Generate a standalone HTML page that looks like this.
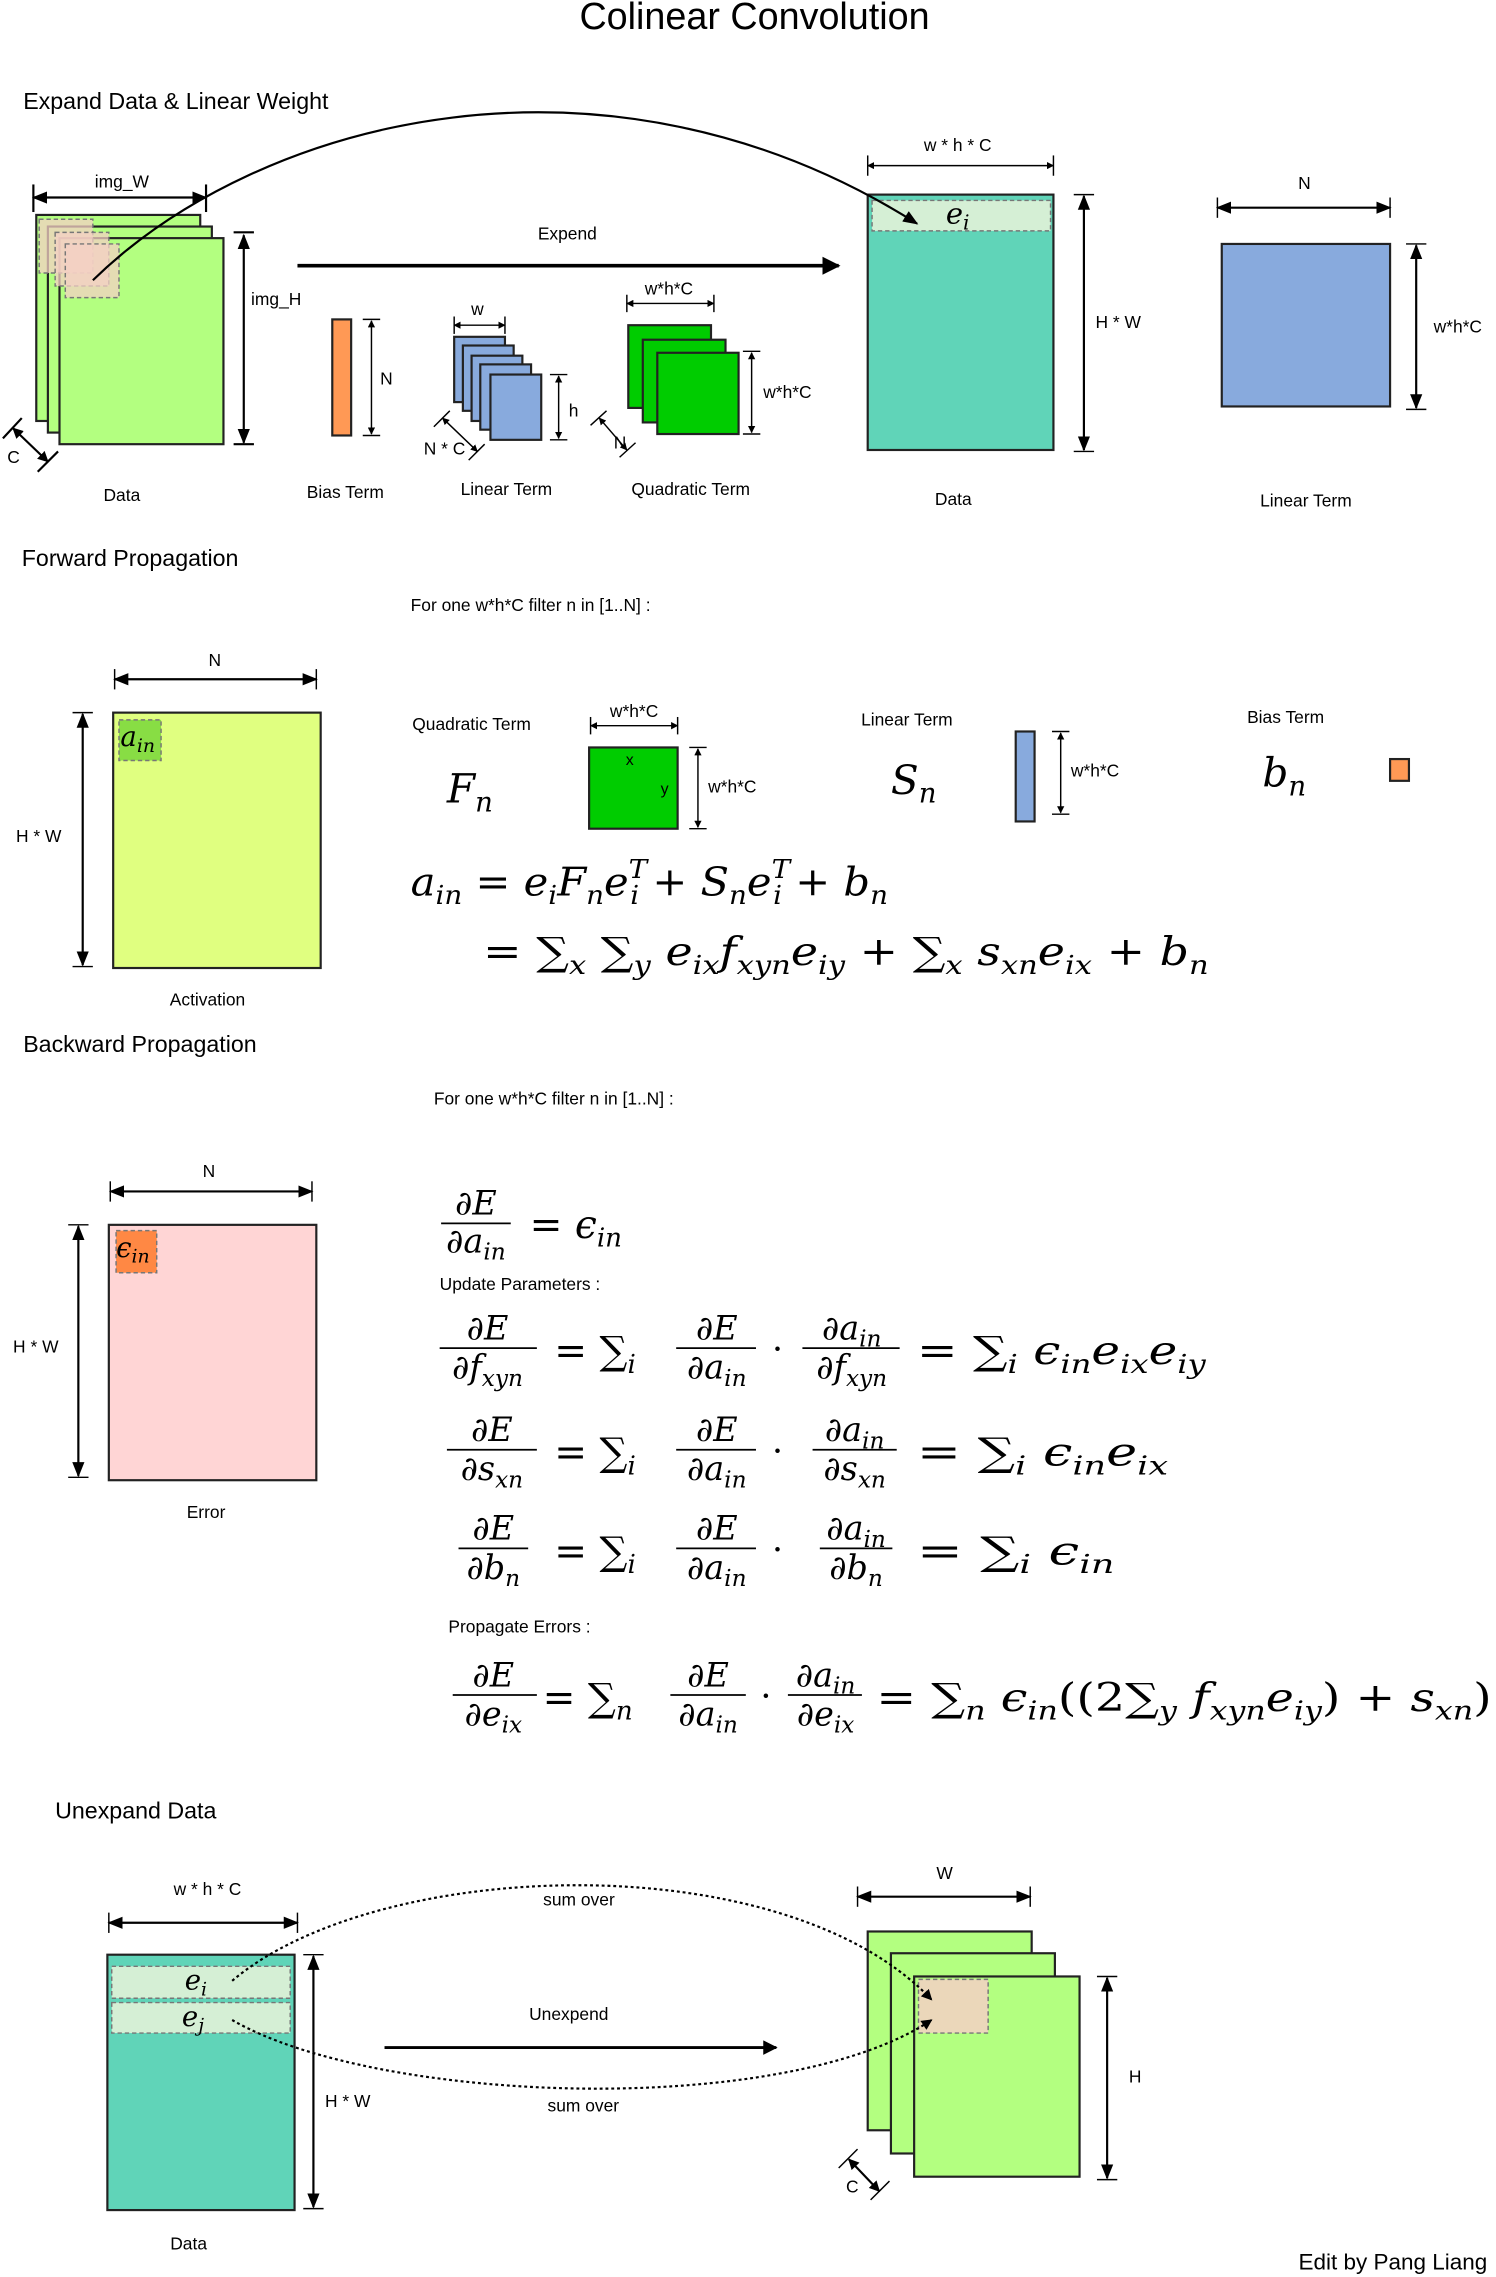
<!DOCTYPE html>
<html><head><meta charset="utf-8"><style>
html,body{margin:0;padding:0;background:#fff}
svg{display:block}
.t{font-family:"Liberation Sans",sans-serif;fill:#000}
.m{font-family:"DejaVu Serif","Liberation Serif",serif;font-style:italic;fill:#000}
.r{font-family:"DejaVu Serif","Liberation Serif",serif;font-style:normal;fill:#000}
</style></head><body>
<svg width="1496" height="2277" viewBox="0 0 1031 1569" xmlns="http://www.w3.org/2000/svg">
<defs>
<marker id="a" viewBox="0 0 10 10" refX="9" refY="5" markerWidth="7" markerHeight="7" orient="auto-start-reverse"><path d="M0,1L10,5L0,9z" fill="#000"/></marker>
<marker id="b" viewBox="0 0 10 10" refX="9" refY="5" markerWidth="5" markerHeight="5" orient="auto-start-reverse"><path d="M0,0L10,5L0,10z" fill="#000"/></marker>
</defs>
<g stroke="#000" stroke-width="1.5">
<text class="t" x="520" y="20" font-size="26" text-anchor="middle" stroke="none">Colinear Convolution</text>

<text class="t" x="16" y="75" font-size="16" stroke="none">Expand Data &amp; Linear Weight</text>
<g stroke="#222">
<rect x="25" y="148" width="113" height="142" fill="#b3ff80"/>
<rect x="33" y="156" width="113" height="142" fill="#b3ff80"/>
<rect x="41" y="164" width="113" height="142" fill="#b3ff80"/>
<rect x="27" y="151" width="37" height="37" fill="#f4d0c4" fill-opacity="0.75" stroke="#777" stroke-dasharray="3,2" stroke-width="1"/>
<rect x="38" y="160" width="37" height="37" fill="#f4d0c4" fill-opacity="0.75" stroke="#777" stroke-dasharray="3,2" stroke-width="1"/>
<rect x="45" y="168" width="37" height="37" fill="#f4d0c4" fill-opacity="0.75" stroke="#777" stroke-dasharray="3,2" stroke-width="1"/>
</g>
<line x1="23" y1="136" x2="142" y2="136" marker-start="url(#a)" marker-end="url(#a)"/>
<line x1="23" y1="127" x2="23" y2="146"/><line x1="142" y1="127" x2="142" y2="146"/>
<text class="t" x="84" y="129" font-size="12" text-anchor="middle" stroke="none">img_W</text>
<line x1="168" y1="162" x2="168" y2="305" marker-start="url(#a)" marker-end="url(#a)"/>
<line x1="161" y1="160" x2="175" y2="160"/><line x1="161" y1="306" x2="175" y2="306"/>
<text class="t" x="173" y="210" font-size="12" stroke="none">img_H</text>
<line x1="9" y1="295" x2="33" y2="318" marker-start="url(#b)" marker-end="url(#b)"/>
<line x1="2" y1="302" x2="15" y2="288"/><line x1="26" y1="325" x2="40" y2="311"/>
<text class="t" x="5" y="319" font-size="12" stroke="none">C</text>
<text class="t" x="84" y="345" font-size="12" text-anchor="middle" stroke="none">Data</text>

<line x1="205" y1="183" x2="578" y2="183" stroke-width="2.5" marker-end="url(#b)"/>
<text class="t" x="391" y="165" font-size="12" text-anchor="middle" stroke="none">Expend</text>

<rect x="229" y="220" width="13" height="80" fill="#ff9955" stroke="#222"/>
<line x1="256" y1="221" x2="256" y2="299" stroke-width="1" marker-start="url(#b)" marker-end="url(#b)"/>
<line x1="250" y1="220" x2="262" y2="220" stroke-width="1"/><line x1="250" y1="300" x2="262" y2="300" stroke-width="1"/>
<text class="t" x="262" y="265" font-size="12" stroke="none">N</text>
<text class="t" x="238" y="343" font-size="12" text-anchor="middle" stroke="none">Bias Term</text>

<g stroke="#222" fill="#88aadd">
<rect x="313" y="232" width="35" height="45"/><rect x="319" y="238" width="35" height="45"/><rect x="325" y="245" width="35" height="45"/><rect x="331" y="251" width="35" height="45"/><rect x="338" y="258" width="35" height="45"/>
</g>
<line x1="313" y1="224" x2="348" y2="224" stroke-width="1" marker-start="url(#b)" marker-end="url(#b)"/>
<line x1="313" y1="218" x2="313" y2="230" stroke-width="1"/><line x1="348" y1="218" x2="348" y2="230" stroke-width="1"/>
<text class="t" x="329" y="217" font-size="12" text-anchor="middle" stroke="none">w</text>
<line x1="385" y1="259" x2="385" y2="302" stroke-width="1" marker-start="url(#b)" marker-end="url(#b)"/>
<line x1="379" y1="258" x2="391" y2="258" stroke-width="1"/><line x1="379" y1="303" x2="391" y2="303" stroke-width="1"/>
<text class="t" x="392" y="287" font-size="12" stroke="none">h</text>
<line x1="305" y1="288" x2="329" y2="311" stroke-width="1" marker-start="url(#b)" marker-end="url(#b)"/>
<line x1="299" y1="294" x2="310" y2="283" stroke-width="1"/><line x1="323" y1="317" x2="334" y2="306" stroke-width="1"/>
<text class="t" x="292" y="313" font-size="12" stroke="none">N * C</text>
<text class="t" x="349" y="341" font-size="12" text-anchor="middle" stroke="none">Linear Term</text>

<g stroke="#222" fill="#00cc00">
<rect x="433" y="224" width="57" height="57"/><rect x="443" y="234" width="57" height="57"/><rect x="453" y="243" width="56" height="56"/>
</g>
<line x1="432" y1="209" x2="492" y2="209" stroke-width="1" marker-start="url(#b)" marker-end="url(#b)"/>
<line x1="432" y1="203" x2="432" y2="215" stroke-width="1"/><line x1="492" y1="203" x2="492" y2="215" stroke-width="1"/>
<text class="t" x="461" y="203" font-size="12" text-anchor="middle" stroke="none">w*h*C</text>
<line x1="518" y1="243" x2="518" y2="298" stroke-width="1" marker-start="url(#b)" marker-end="url(#b)"/>
<line x1="512" y1="242" x2="524" y2="242" stroke-width="1"/><line x1="512" y1="299" x2="524" y2="299" stroke-width="1"/>
<text class="t" x="526" y="274" font-size="12" stroke="none">w*h*C</text>
<line x1="413" y1="288" x2="432" y2="310" stroke-width="1" marker-start="url(#b)" marker-end="url(#b)"/>
<line x1="407" y1="293" x2="418" y2="283" stroke-width="1"/><line x1="427" y1="315" x2="438" y2="305" stroke-width="1"/>
<text class="t" x="423" y="309" font-size="12" stroke="none">N</text>
<text class="t" x="476" y="341" font-size="12" text-anchor="middle" stroke="none">Quadratic Term</text>

<rect x="598" y="134" width="128" height="176" fill="#60d4b8" stroke="#222"/>
<rect x="601" y="138" width="123" height="21" fill="#d5efd5" stroke="#777" stroke-width="1" stroke-dasharray="3,2"/>
<text class="m" x="660" y="154" font-size="20" text-anchor="middle" stroke="none">e<tspan font-size="14" dy="4">i</tspan></text>
<line x1="598" y1="114" x2="726" y2="114" stroke-width="1" marker-start="url(#b)" marker-end="url(#b)"/>
<line x1="598" y1="107" x2="598" y2="121" stroke-width="1"/><line x1="726" y1="107" x2="726" y2="121" stroke-width="1"/>
<text class="t" x="660" y="104" font-size="12" text-anchor="middle" stroke="none">w * h * C</text>
<line x1="747" y1="135" x2="747" y2="310" stroke-width="1.5" marker-start="url(#a)" marker-end="url(#a)"/>
<line x1="740" y1="134" x2="754" y2="134" stroke-width="1"/><line x1="740" y1="311" x2="754" y2="311" stroke-width="1"/>
<text class="t" x="755" y="226" font-size="12" stroke="none">H * W</text>
<text class="t" x="657" y="348" font-size="12" text-anchor="middle" stroke="none">Data</text>
<path d="M64,193 C180,80 420,20 632,154" fill="none" marker-end="url(#a)"/>

<rect x="842" y="168" width="116" height="112" fill="#88aadd" stroke="#222"/>
<line x1="839" y1="143" x2="958" y2="143" stroke-width="1.5" marker-start="url(#a)" marker-end="url(#a)"/>
<line x1="839" y1="136" x2="839" y2="150" stroke-width="1"/><line x1="958" y1="136" x2="958" y2="150" stroke-width="1"/>
<text class="t" x="899" y="130" font-size="12" text-anchor="middle" stroke="none">N</text>
<line x1="976" y1="169" x2="976" y2="281" stroke-width="1.5" marker-start="url(#a)" marker-end="url(#a)"/>
<line x1="969" y1="168" x2="983" y2="168" stroke-width="1"/><line x1="969" y1="282" x2="983" y2="282" stroke-width="1"/>
<text class="t" x="988" y="229" font-size="12" stroke="none">w*h*C</text>
<text class="t" x="900" y="349" font-size="12" text-anchor="middle" stroke="none">Linear Term</text>

<text class="t" x="15" y="390" font-size="16" stroke="none">Forward Propagation</text>
<text class="t" x="283" y="421" font-size="12" stroke="none">For one w*h*C filter n in [1..N] :</text>
<rect x="78" y="491" width="143" height="176" fill="#e0ff80" stroke="#222"/>
<rect x="82" y="496" width="29" height="28" fill="#88dd44" stroke="#777" stroke-width="1" stroke-dasharray="3,2"/>
<text class="m" x="83" y="514" font-size="19" stroke="none">a<tspan font-size="13" dy="4">in</tspan></text>
<line x1="79" y1="468" x2="218" y2="468" stroke-width="1.5" marker-start="url(#a)" marker-end="url(#a)"/>
<line x1="79" y1="461" x2="79" y2="475" stroke-width="1"/><line x1="218" y1="461" x2="218" y2="475" stroke-width="1"/>
<text class="t" x="148" y="459" font-size="12" text-anchor="middle" stroke="none">N</text>
<line x1="57" y1="492" x2="57" y2="665" stroke-width="1.5" marker-start="url(#a)" marker-end="url(#a)"/>
<line x1="50" y1="491" x2="64" y2="491" stroke-width="1"/><line x1="50" y1="666" x2="64" y2="666" stroke-width="1"/>
<text class="t" x="11" y="580" font-size="12" stroke="none">H * W</text>
<text class="t" x="143" y="693" font-size="12" text-anchor="middle" stroke="none">Activation</text>

<text class="t" x="325" y="503" font-size="12" text-anchor="middle" stroke="none">Quadratic Term</text>
<text class="m" x="308" y="553" font-size="28" stroke="none">F<tspan font-size="19" dy="6">n</tspan></text>
<rect x="406" y="515" width="61" height="56" fill="#00cc00" stroke="#222"/>
<text class="t" x="434" y="527" font-size="11" text-anchor="middle" stroke="none">x</text>
<text class="t" x="458" y="547" font-size="11" text-anchor="middle" stroke="none">y</text>
<line x1="407" y1="500" x2="467" y2="500" stroke-width="1" marker-start="url(#b)" marker-end="url(#b)"/>
<line x1="407" y1="494" x2="407" y2="506" stroke-width="1"/><line x1="467" y1="494" x2="467" y2="506" stroke-width="1"/>
<text class="t" x="437" y="494" font-size="12" text-anchor="middle" stroke="none">w*h*C</text>
<line x1="481" y1="516" x2="481" y2="570" stroke-width="1" marker-start="url(#b)" marker-end="url(#b)"/>
<line x1="475" y1="515" x2="487" y2="515" stroke-width="1"/><line x1="475" y1="571" x2="487" y2="571" stroke-width="1"/>
<text class="t" x="488" y="546" font-size="12" stroke="none">w*h*C</text>

<text class="t" x="625" y="500" font-size="12" text-anchor="middle" stroke="none">Linear Term</text>
<text class="m" x="614" y="547" font-size="28" stroke="none">S<tspan font-size="19" dy="6">n</tspan></text>
<rect x="700" y="504" width="13" height="62" fill="#88aadd" stroke="#222"/>
<line x1="731" y1="505" x2="731" y2="560" stroke-width="1" marker-start="url(#b)" marker-end="url(#b)"/>
<line x1="725" y1="504" x2="737" y2="504" stroke-width="1"/><line x1="725" y1="561" x2="737" y2="561" stroke-width="1"/>
<text class="t" x="738" y="535" font-size="12" stroke="none">w*h*C</text>

<text class="t" x="886" y="498" font-size="12" text-anchor="middle" stroke="none">Bias Term</text>
<text class="m" x="870" y="542" font-size="28" stroke="none">b<tspan font-size="19" dy="6">n</tspan></text>
<rect x="958" y="523" width="13" height="15" fill="#ff9955" stroke="#222"/>

<g stroke="none">
<text class="m" x="283" y="617" font-size="27" textLength="329" lengthAdjust="spacingAndGlyphs">a<tspan font-size="18" dy="6">in</tspan><tspan class="r" dy="-6"> = </tspan>e<tspan font-size="18" dy="6">i</tspan><tspan dy="-6">F</tspan><tspan font-size="18" dy="6">n</tspan><tspan dy="-6">e</tspan><tspan font-size="18" dy="-12">T</tspan><tspan font-size="18" dx="-11" dy="18">i</tspan><tspan class="r" dy="-6"> + </tspan>S<tspan font-size="18" dy="6">n</tspan><tspan dy="-6">e</tspan><tspan font-size="18" dy="-12">T</tspan><tspan font-size="18" dx="-11" dy="18">i</tspan><tspan class="r" dy="-6"> + </tspan>b<tspan font-size="18" dy="6">n</tspan></text>
<text class="m" x="333" y="665" font-size="27" textLength="500" lengthAdjust="spacingAndGlyphs"><tspan class="r">= ∑</tspan><tspan font-size="18" dy="6">x</tspan><tspan class="r" dy="-6"> ∑</tspan><tspan font-size="18" dy="6">y</tspan><tspan dy="-6"> e</tspan><tspan font-size="18" dy="6">ix</tspan><tspan dy="-6">f</tspan><tspan font-size="18" dy="6">xyn</tspan><tspan dy="-6">e</tspan><tspan font-size="18" dy="6">iy</tspan><tspan class="r" dy="-6"> + ∑</tspan><tspan font-size="18" dy="6">x</tspan><tspan dy="-6"> s</tspan><tspan font-size="18" dy="6">xn</tspan><tspan dy="-6">e</tspan><tspan font-size="18" dy="6">ix</tspan><tspan class="r" dy="-6"> + </tspan>b<tspan font-size="18" dy="6">n</tspan></text>
</g>

<text class="t" x="16" y="725" font-size="16" stroke="none">Backward Propagation</text>
<text class="t" x="299" y="761" font-size="12" stroke="none">For one w*h*C filter n in [1..N] :</text>
<rect x="75" y="844" width="143" height="176" fill="#ffd5d5" stroke="#222"/>
<rect x="80" y="848" width="28" height="29" fill="#ff8844" stroke="#777" stroke-width="1" stroke-dasharray="3,2"/>
<text class="m" x="80" y="866" font-size="19" stroke="none">ϵ<tspan font-size="13" dy="4">in</tspan></text>
<line x1="76" y1="821" x2="215" y2="821" stroke-width="1.5" marker-start="url(#a)" marker-end="url(#a)"/>
<line x1="76" y1="814" x2="76" y2="828" stroke-width="1"/><line x1="215" y1="814" x2="215" y2="828" stroke-width="1"/>
<text class="t" x="144" y="811" font-size="12" text-anchor="middle" stroke="none">N</text>
<line x1="54" y1="845" x2="54" y2="1017" stroke-width="1.5" marker-start="url(#a)" marker-end="url(#a)"/>
<line x1="47" y1="844" x2="61" y2="844" stroke-width="1"/><line x1="47" y1="1018" x2="61" y2="1018" stroke-width="1"/>
<text class="t" x="9" y="932" font-size="12" stroke="none">H * W</text>
<text class="t" x="142" y="1046" font-size="12" text-anchor="middle" stroke="none">Error</text>

<g stroke="none">
<text class="m" x="328" y="837" font-size="23" text-anchor="middle">∂E</text>
<line x1="304" y1="843" x2="352" y2="843" stroke="#000" stroke-width="1.2"/>
<text class="m" x="328" y="863" font-size="23" text-anchor="middle">∂a<tspan font-size="16" dy="5">in</tspan></text>
<text class="m" x="365" y="853" font-size="27"><tspan class="r">= </tspan>ϵ<tspan font-size="18" dy="6">in</tspan></text>
<text class="t" x="303" y="889" font-size="12">Update Parameters :</text>

<text class="m" x="336" y="923" font-size="23" text-anchor="middle">∂E</text>
<line x1="303" y1="929" x2="370" y2="929" stroke="#000" stroke-width="1.2"/>
<text class="m" x="336" y="950" font-size="23" text-anchor="middle">∂f<tspan font-size="16" dy="5">xyn</tspan></text>
<text class="r" x="382" y="940" font-size="27">= ∑<tspan class="m" font-size="18" dy="6">i</tspan></text>
<text class="m" x="494" y="923" font-size="23" text-anchor="middle">∂E</text>
<line x1="466" y1="929" x2="521" y2="929" stroke="#000" stroke-width="1.2"/>
<text class="m" x="494" y="950" font-size="23" text-anchor="middle">∂a<tspan font-size="16" dy="5">in</tspan></text>
<text class="r" x="532" y="938" font-size="24">·</text>
<text class="m" x="587" y="923" font-size="23" text-anchor="middle">∂a<tspan font-size="16" dy="5">in</tspan></text>
<line x1="553" y1="929" x2="620" y2="929" stroke="#000" stroke-width="1.2"/>
<text class="m" x="587" y="950" font-size="23" text-anchor="middle">∂f<tspan font-size="16" dy="5">xyn</tspan></text>
<text class="m" x="632" y="940" font-size="27" textLength="199" lengthAdjust="spacingAndGlyphs"><tspan class="r">= ∑</tspan><tspan font-size="18" dy="6">i</tspan><tspan dy="-6"> ϵ</tspan><tspan font-size="18" dy="6">in</tspan><tspan dy="-6">e</tspan><tspan font-size="18" dy="6">ix</tspan><tspan dy="-6">e</tspan><tspan font-size="18" dy="6">iy</tspan></text>

<text class="m" x="339" y="993" font-size="23" text-anchor="middle">∂E</text>
<line x1="308" y1="999" x2="370" y2="999" stroke="#000" stroke-width="1.2"/>
<text class="m" x="339" y="1020" font-size="23" text-anchor="middle">∂s<tspan font-size="16" dy="5">xn</tspan></text>
<text class="r" x="382" y="1010" font-size="27">= ∑<tspan class="m" font-size="18" dy="6">i</tspan></text>
<text class="m" x="494" y="993" font-size="23" text-anchor="middle">∂E</text>
<line x1="466" y1="999" x2="521" y2="999" stroke="#000" stroke-width="1.2"/>
<text class="m" x="494" y="1020" font-size="23" text-anchor="middle">∂a<tspan font-size="16" dy="5">in</tspan></text>
<text class="r" x="532" y="1008" font-size="24">·</text>
<text class="m" x="589" y="993" font-size="23" text-anchor="middle">∂a<tspan font-size="16" dy="5">in</tspan></text>
<line x1="560" y1="999" x2="618" y2="999" stroke="#000" stroke-width="1.2"/>
<text class="m" x="589" y="1020" font-size="23" text-anchor="middle">∂s<tspan font-size="16" dy="5">xn</tspan></text>
<text class="m" x="632" y="1010" font-size="27" textLength="173" lengthAdjust="spacingAndGlyphs"><tspan class="r">= ∑</tspan><tspan font-size="18" dy="6">i</tspan><tspan dy="-6"> ϵ</tspan><tspan font-size="18" dy="6">in</tspan><tspan dy="-6">e</tspan><tspan font-size="18" dy="6">ix</tspan></text>

<text class="m" x="340" y="1061" font-size="23" text-anchor="middle">∂E</text>
<line x1="316" y1="1067" x2="364" y2="1067" stroke="#000" stroke-width="1.2"/>
<text class="m" x="340" y="1088" font-size="23" text-anchor="middle">∂b<tspan font-size="16" dy="5">n</tspan></text>
<text class="r" x="382" y="1078" font-size="27">= ∑<tspan class="m" font-size="18" dy="6">i</tspan></text>
<text class="m" x="494" y="1061" font-size="23" text-anchor="middle">∂E</text>
<line x1="466" y1="1067" x2="521" y2="1067" stroke="#000" stroke-width="1.2"/>
<text class="m" x="494" y="1088" font-size="23" text-anchor="middle">∂a<tspan font-size="16" dy="5">in</tspan></text>
<text class="r" x="532" y="1076" font-size="24">·</text>
<text class="m" x="590" y="1061" font-size="23" text-anchor="middle">∂a<tspan font-size="16" dy="5">in</tspan></text>
<line x1="565" y1="1067" x2="615" y2="1067" stroke="#000" stroke-width="1.2"/>
<text class="m" x="590" y="1088" font-size="23" text-anchor="middle">∂b<tspan font-size="16" dy="5">n</tspan></text>
<text class="m" x="632" y="1078" font-size="27" textLength="136" lengthAdjust="spacingAndGlyphs"><tspan class="r">= ∑</tspan><tspan font-size="18" dy="6">i</tspan><tspan dy="-6"> ϵ</tspan><tspan font-size="18" dy="6">in</tspan></text>
<text class="t" x="309" y="1125" font-size="12">Propagate Errors :</text>

<text class="m" x="340" y="1162" font-size="23" text-anchor="middle">∂E</text>
<line x1="312" y1="1168" x2="370" y2="1168" stroke="#000" stroke-width="1.2"/>
<text class="m" x="340" y="1189" font-size="23" text-anchor="middle">∂e<tspan font-size="16" dy="5">ix</tspan></text>
<text class="r" x="374" y="1179" font-size="27">= ∑<tspan class="m" font-size="18" dy="6">n</tspan></text>
<text class="m" x="488" y="1162" font-size="23" text-anchor="middle">∂E</text>
<line x1="462" y1="1168" x2="514" y2="1168" stroke="#000" stroke-width="1.2"/>
<text class="m" x="488" y="1189" font-size="23" text-anchor="middle">∂a<tspan font-size="16" dy="5">in</tspan></text>
<text class="r" x="524" y="1177" font-size="24">·</text>
<text class="m" x="569" y="1162" font-size="23" text-anchor="middle">∂a<tspan font-size="16" dy="5">in</tspan></text>
<line x1="543" y1="1168" x2="594" y2="1168" stroke="#000" stroke-width="1.2"/>
<text class="m" x="569" y="1189" font-size="23" text-anchor="middle">∂e<tspan font-size="16" dy="5">ix</tspan></text>
<text class="m" x="604" y="1179" font-size="27" textLength="424" lengthAdjust="spacingAndGlyphs"><tspan class="r">= ∑</tspan><tspan font-size="18" dy="6">n</tspan><tspan dy="-6"> ϵ</tspan><tspan font-size="18" dy="6">in</tspan><tspan class="r" dy="-6">((2∑</tspan><tspan font-size="18" dy="6">y</tspan><tspan dy="-6"> f</tspan><tspan font-size="18" dy="6">xyn</tspan><tspan dy="-6">e</tspan><tspan font-size="18" dy="6">iy</tspan><tspan class="r" dy="-6">) + </tspan>s<tspan font-size="18" dy="6">xn</tspan><tspan class="r" dy="-6">)</tspan></text>
</g>

<text class="t" x="38" y="1253" font-size="16" stroke="none">Unexpand Data</text>
<rect x="74" y="1347" width="129" height="176" fill="#60d4b8" stroke="#222"/>
<rect x="77" y="1355" width="123" height="22" fill="#d5efd5" stroke="#777" stroke-width="1" stroke-dasharray="3,2"/>
<rect x="77" y="1380" width="123" height="21" fill="#d5efd5" stroke="#777" stroke-width="1" stroke-dasharray="3,2"/>
<text class="m" x="135" y="1371" font-size="19" text-anchor="middle" stroke="none">e<tspan font-size="13" dy="4">i</tspan></text>
<text class="m" x="133" y="1396" font-size="19" text-anchor="middle" stroke="none">e<tspan font-size="13" dy="4">j</tspan></text>
<line x1="75" y1="1325" x2="205" y2="1325" stroke-width="1.5" marker-start="url(#a)" marker-end="url(#a)"/>
<line x1="75" y1="1318" x2="75" y2="1332" stroke-width="1"/><line x1="205" y1="1318" x2="205" y2="1332" stroke-width="1"/>
<text class="t" x="143" y="1306" font-size="12" text-anchor="middle" stroke="none">w * h * C</text>
<line x1="216" y1="1348" x2="216" y2="1521" stroke-width="1.5" marker-start="url(#a)" marker-end="url(#a)"/>
<line x1="209" y1="1347" x2="223" y2="1347" stroke-width="1"/><line x1="209" y1="1522" x2="223" y2="1522" stroke-width="1"/>
<text class="t" x="224" y="1452" font-size="12" stroke="none">H * W</text>
<text class="t" x="130" y="1550" font-size="12" text-anchor="middle" stroke="none">Data</text>

<line x1="265" y1="1411" x2="535" y2="1411" stroke-width="2" marker-end="url(#b)"/>
<text class="t" x="392" y="1392" font-size="12" text-anchor="middle" stroke="none">Unexpend</text>
<text class="t" x="399" y="1313" font-size="12" text-anchor="middle" stroke="none">sum over</text>
<text class="t" x="402" y="1455" font-size="12" text-anchor="middle" stroke="none">sum over</text>

<g stroke="#222">
<rect x="598" y="1331" width="113" height="137" fill="#b3ff80"/>
<rect x="614" y="1346" width="113" height="138" fill="#b3ff80"/>
<rect x="630" y="1362" width="114" height="138" fill="#b3ff80"/>
<rect x="633" y="1364" width="48" height="37" fill="#f4d0c4" fill-opacity="0.85" stroke="#777" stroke-width="1" stroke-dasharray="3,2"/>
</g>
<g stroke-dasharray="2,2" fill="none">
<path d="M160,1365 C260,1280 540,1270 642,1378" marker-end="url(#b)"/>
<path d="M160,1392 C260,1450 540,1460 642,1392" marker-end="url(#b)"/>
</g>
<line x1="591" y1="1307" x2="710" y2="1307" stroke-width="1.5" marker-start="url(#a)" marker-end="url(#a)"/>
<line x1="591" y1="1300" x2="591" y2="1314" stroke-width="1"/><line x1="710" y1="1300" x2="710" y2="1314" stroke-width="1"/>
<text class="t" x="651" y="1295" font-size="12" text-anchor="middle" stroke="none">W</text>
<line x1="763" y1="1363" x2="763" y2="1501" stroke-width="1.5" marker-start="url(#a)" marker-end="url(#a)"/>
<line x1="756" y1="1362" x2="770" y2="1362" stroke-width="1"/><line x1="756" y1="1502" x2="770" y2="1502" stroke-width="1"/>
<text class="t" x="778" y="1435" font-size="12" stroke="none">H</text>
<line x1="585" y1="1488" x2="606" y2="1510" marker-start="url(#b)" marker-end="url(#b)"/>
<line x1="578" y1="1494" x2="591" y2="1481" stroke-width="1"/><line x1="600" y1="1516" x2="613" y2="1503" stroke-width="1"/>
<text class="t" x="583" y="1511" font-size="12" stroke="none">C</text>

<text class="t" x="1025" y="1564" font-size="15.5" text-anchor="end" stroke="none">Edit by Pang Liang</text>
</g>
</svg>
</body></html>
